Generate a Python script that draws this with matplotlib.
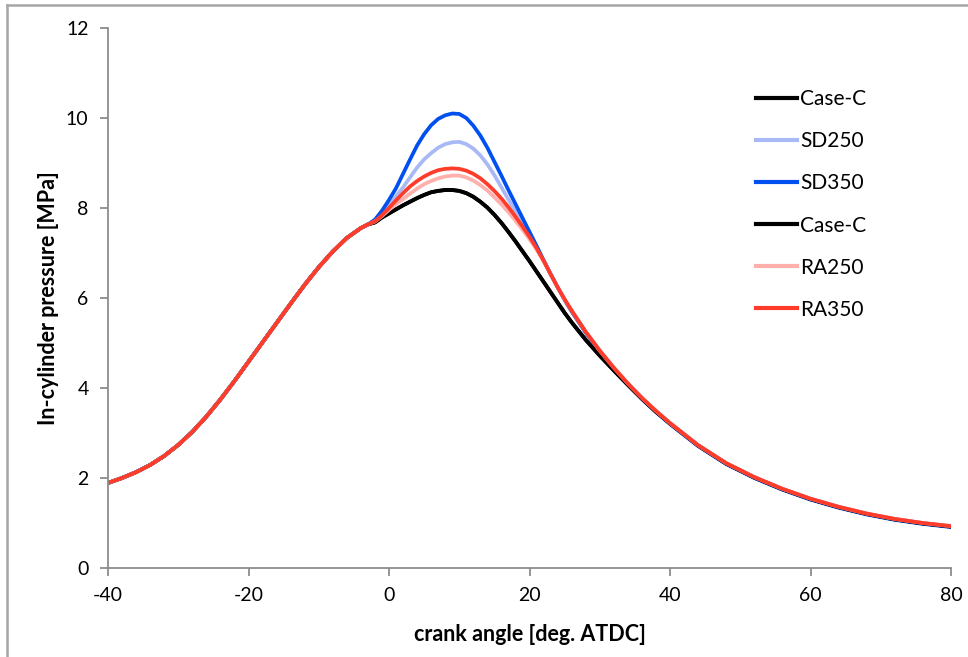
import matplotlib
matplotlib.use("Agg")
import matplotlib.pyplot as plt
from matplotlib.lines import Line2D

plt.rcParams['font.family'] = ['Lato', 'DejaVu Sans']

# Compression stroke, identical for every case (deg ATDC, MPa)
compression_angle = [-40, -38, -36, -34, -32, -30, -28, -26, -24, -22, -20,
                     -18, -16, -14, -12, -10, -8, -6, -4, -3]
compression_p = [1.89, 2.00, 2.13, 2.29, 2.49, 2.735, 3.025, 3.365, 3.745, 4.155, 4.585,
                 5.015, 5.445, 5.875, 6.295, 6.685, 7.035, 7.335, 7.555, 7.635]

# Combustion window, one value per crank degree (-2 ... 25)
combustion_angle = list(range(-2, 26))
case_c_comb = [7.68, 7.79, 7.88, 7.97, 8.06, 8.14, 8.22, 8.29, 8.35, 8.38, 8.40,
               8.40, 8.38, 8.33, 8.25, 8.14, 8.01, 7.85, 7.67, 7.47, 7.26, 7.04,
               6.82, 6.59, 6.36, 6.13, 5.90, 5.67]
sd250_comb = [7.72, 7.88, 8.07, 8.26, 8.46, 8.68, 8.90, 9.08, 9.22, 9.34, 9.42,
              9.46, 9.47, 9.42, 9.32, 9.17, 8.97, 8.73, 8.46, 8.19, 7.93, 7.67,
              7.41, 7.13, 6.83, 6.53, 6.24, 5.97]
sd350_comb = [7.74, 7.94, 8.18, 8.44, 8.76, 9.08, 9.39, 9.64, 9.84, 9.98, 10.06,
              10.10, 10.09, 10.00, 9.83, 9.61, 9.34, 9.03, 8.72, 8.40, 8.09, 7.78,
              7.47, 7.16, 6.84, 6.54, 6.24, 5.96]
ra250_comb = [7.70, 7.82, 7.96, 8.09, 8.20, 8.32, 8.43, 8.53, 8.60, 8.66, 8.70,
              8.72, 8.72, 8.68, 8.61, 8.51, 8.39, 8.24, 8.08, 7.91, 7.72, 7.52,
              7.31, 7.08, 6.82, 6.53, 6.24, 5.97]
ra350_comb = [7.70, 7.84, 8.00, 8.17, 8.33, 8.48, 8.60, 8.70, 8.78, 8.84, 8.87,
              8.88, 8.87, 8.83, 8.76, 8.66, 8.53, 8.38, 8.21, 8.02, 7.81, 7.59,
              7.36, 7.11, 6.83, 6.53, 6.24, 5.97]

# Expansion stroke
expansion_angle = [26, 28, 30, 32, 34, 36, 38, 40, 44, 48, 52, 56, 60, 64, 68, 72, 76, 80]
expansion_p = [5.72, 5.25, 4.83, 4.45, 4.10, 3.78, 3.49, 3.22, 2.73, 2.33, 2.02,
               1.76, 1.54, 1.36, 1.21, 1.09, 1.00, 0.93]
case_c_expansion_p = [5.46, 5.07, 4.72, 4.39, 4.07, 3.76, 3.47, 3.21, 2.72, 2.32, 2.01,
                      1.75, 1.53, 1.35, 1.20, 1.08, 0.99, 0.92]
sd350_expansion_p = [5.70, 5.23, 4.81, 4.43, 4.08, 3.76, 3.47, 3.20, 2.71, 2.31, 2.00,
                     1.74, 1.52, 1.34, 1.19, 1.07, 0.98, 0.91]

series_labels = ["Case-C", "SD250", "SD350", "Case-C", "RA250", "RA350"]
series_colors = ["#000000", "#A9B9F6", "#0050F0", "#000000", "#FFB0AC", "#FF3B2A"]

angle = compression_angle + combustion_angle + expansion_angle
series_values = [
    compression_p + case_c_comb + case_c_expansion_p,
    compression_p + sd250_comb + expansion_p,
    compression_p + sd350_comb + sd350_expansion_p,
    compression_p + case_c_comb + case_c_expansion_p,
    compression_p + ra250_comb + expansion_p,
    compression_p + ra350_comb + expansion_p,
]

x_ticks = [-40, -20, 0, 20, 40, 60, 80]
y_ticks = [0, 2, 4, 6, 8, 10, 12]

fig = plt.figure(figsize=(9.68, 6.57), dpi=100)
ax = fig.add_axes([108 / 968, 1 - 568 / 657, (951 - 108) / 968, (568 - 28) / 657])

for vals, col, lab in zip(series_values, series_colors, series_labels):
    ax.plot(angle, vals, color=col, lw=2.7, label=lab,
            solid_capstyle='round', solid_joinstyle='round')

ax.set_xlim(-40, 80)
ax.set_ylim(0, 12)
ax.set_xticks(x_ticks)
ax.set_yticks(y_ticks)
ax.set_xticklabels([str(v) for v in x_ticks])
ax.set_yticklabels([str(v) for v in y_ticks])

axis_gray = "#8C8C8C"
for side in ("top", "right"):
    ax.spines[side].set_visible(False)
for side in ("left", "bottom"):
    ax.spines[side].set_color(axis_gray)
    ax.spines[side].set_linewidth(1.3)
ax.tick_params(axis='both', direction='out', length=6, width=1.3, color=axis_gray,
               labelsize=14, labelcolor='#000000', pad=8)

ax.set_xlabel("crank angle [deg. ATDC]", fontsize=15.5, fontweight='bold', labelpad=14)
ax.set_ylabel("In-cylinder pressure [MPa]", fontsize=15.5, fontweight='bold', labelpad=5)

handles = [Line2D([0], [0], color=c, lw=3.0) for c in series_colors]
leg = fig.legend(handles, series_labels, loc='upper left',
                 bbox_to_anchor=(748 / 968, 1 - 81 / 657),
                 frameon=False, fontsize=15, handlelength=1.97, handletextpad=0.12,
                 labelspacing=1.06, borderaxespad=0)

# chart-area frame
fig.add_artist(Line2D([7 / 968, 7 / 968], [0, 1 - 5 / 657], transform=fig.transFigure,
                      color="#A6A6A6", lw=1.8))
fig.add_artist(Line2D([7 / 968, 1], [1 - 5 / 657, 1 - 5 / 657], transform=fig.transFigure,
                      color="#A6A6A6", lw=1.8))

fig.savefig("out.png", dpi=100)
